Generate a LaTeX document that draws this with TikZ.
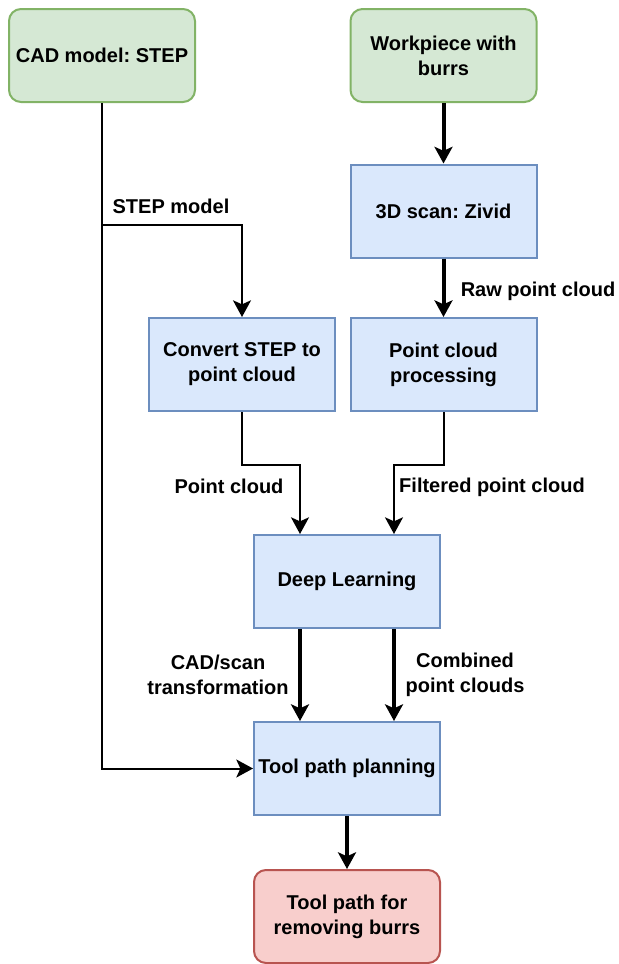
\documentclass[tikz,border=0pt]{standalone}
\usepackage{fontspec}
\setmainfont{Liberation Sans}
\usetikzlibrary{arrows.meta}
\definecolor{gfill}{HTML}{D5E8D4}\definecolor{gline}{HTML}{82B366}
\definecolor{bfill}{HTML}{DAE8FC}\definecolor{bline}{HTML}{6C8EBF}
\definecolor{rfill}{HTML}{F8CECC}\definecolor{rline}{HTML}{B85450}
\frenchspacing
\begin{document}
\begin{tikzpicture}[x=0.75pt,y=-0.75pt,
  font=\fontsize{15}{18.8}\selectfont\bfseries,
  box/.style={draw, line width=1.5pt, minimum width=139.5pt, minimum height=69.75pt,
    align=center, inner sep=0pt},
  startbox/.style={box, fill=gfill, draw=gline, rounded corners=9pt},
  procbox/.style={box, fill=bfill, draw=bline},
  endbox/.style={box, fill=rfill, draw=rline, rounded corners=9pt},
  tip/.style={-{Stealth[length=12.5pt,width=13.5pt,inset=3pt]}},
  thin/.style={tip, line width=1.5pt},
  thick/.style={tip, line width=3pt},
  lbl/.style={align=center, inner sep=0pt}]
\useasboundingbox (0,0) rectangle (618,964);

% boxes
\node[startbox] (cad)  at (102,55.5)  {CAD model: STEP};
\node[startbox] (work) at (443.5,55.5) {Workpiece with\\burrs};
\node[procbox]  (scan) at (443.5,211) {3D scan: Zivid};
\node[procbox]  (conv) at (242,364.5) {Convert STEP to\\point cloud};
\node[procbox]  (proc) at (443.5,364.5) {Point cloud\\processing};
\node[procbox]  (dl)   at (347,581.5) {Deep Learning};
\node[procbox]  (tpp)  at (347,768.5) {Tool path planning};
\node[endbox]   (out)  at (347,916.5) {Tool path for\\removing burrs};

% routing points
\coordinate (split) at (102,225);
\coordinate (pcA) at (300,465);
\coordinate (pcB) at (394,465);

% connectors
\draw[thin] (cad.south) |- (tpp.west);
\draw[thin] (split) -| (conv.north);
\draw[thick] (work.south) -- (scan.north);
\draw[thick] (scan.south) -- (proc.north);
\draw[thin] (conv.south) |- (pcA) -- (pcA |- dl.north);
\draw[thin] (proc.south) |- (pcB) -- (pcB |- dl.north);
\draw[thick] (dl.south -| pcA) -- (tpp.north -| pcA);
\draw[thick] (dl.south -| pcB) -- (tpp.north -| pcB);
\draw[thick] (tpp.south) -- (out.north);

% labels
\node[lbl] at (171,206) {STEP model};
\node[lbl] at (538,291) {Raw point cloud};
\node[lbl] at (229,486) {Point cloud};
\node[lbl] at (492,487) {Filtered point cloud};
\node[lbl] at (218,675) {CAD/scan\\transformation};
\node[lbl] at (465,675) {Combined\\point clouds};
\end{tikzpicture}
\end{document}
